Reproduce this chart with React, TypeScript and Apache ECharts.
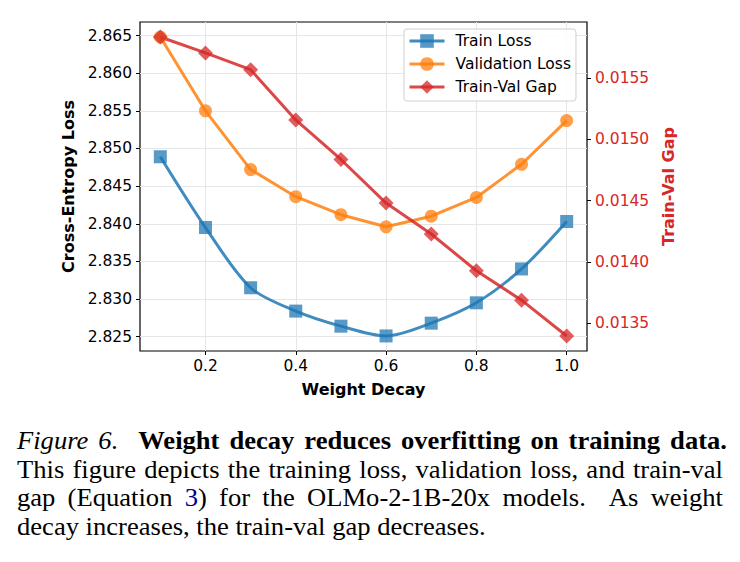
import React, { useEffect, useRef } from "react";
import * as echarts from "echarts";

const weightDecay = [0.1, 0.2, 0.3, 0.4, 0.5, 0.6, 0.7, 0.8, 0.9, 1.0];
const trainLoss = [2.8489, 2.8395, 2.8315, 2.8284, 2.8264, 2.8251, 2.8268, 2.8295, 2.834, 2.8403];
const validationLoss = [2.8648, 2.855, 2.8472, 2.8436, 2.8412, 2.8396, 2.841, 2.8435, 2.8479, 2.8537];
const trainValGap = [0.015833, 0.015703, 0.015567, 0.015157, 0.014835, 0.01448, 0.014228, 0.013929, 0.013689, 0.013397];
const xTicks = [0.2, 0.4, 0.6, 0.8, 1.0];
const lossTicks = [2.825, 2.83, 2.835, 2.84, 2.845, 2.85, 2.855, 2.86, 2.865];
const gapTicks = [0.0135, 0.014, 0.0145, 0.015, 0.0155];

const BLUE = "#1f77b4";
const ORANGE = "#ff7f0e";
const RED = "#d62728";
const FONT = "DejaVu Sans";
const SX = 1.085;

export default function App() {
  const ref = useRef<HTMLDivElement>(null);
  useEffect(() => {
    document.body.style.margin = "0";
    if (!ref.current) return;
    const chart = echarts.init(ref.current, undefined, { renderer: "svg" });
    const pairs = (ys: number[]) => weightDecay.map((x, i) => [x, ys[i]]);
    chart.setOption({
      animation: false,
      textStyle: { fontFamily: FONT },
      grid: {
        left: 140,
        top: 22,
        width: 447,
        height: 329,
        show: true,
        borderColor: "#000",
        borderWidth: 1.2,
        backgroundColor: "transparent",
      },
      legend: {
        orient: "vertical",
        left: 404,
        top: 29,
        padding: [3, 5, 5, 4],
        itemWidth: 35,
        itemHeight: 17,
        itemGap: 5,
        backgroundColor: "rgba(255,255,255,0.85)",
        borderColor: "#d0d0d0",
        borderWidth: 1,
        borderRadius: 3,
        lineStyle: { width: 3 },
        textStyle: { fontFamily: FONT, fontSize: 15.5, color: "#000", lineHeight: 18, padding: [0, 0, 0, 6] },
        data: ["Train Loss", "Validation Loss", "Train-Val Gap"],
      },
      xAxis: {
        type: "value",
        min: 0.055,
        max: 1.045,
        name: "Weight Decay",
        nameLocation: "middle",
        nameGap: 30,
        nameTextStyle: { fontFamily: FONT, fontSize: 16, fontWeight: "bold", color: "#000" },
        axisLine: { show: false },
        axisTick: { show: true, length: 4, lineStyle: { color: "#000", width: 1 }, customValues: xTicks },
        axisLabel: {
          customValues: xTicks,
          margin: 7,
          fontSize: 15.5,
          color: "#000",
          fontFamily: FONT,
          formatter: (v: number) => v.toFixed(1),
        },
        splitLine: { show: true, lineStyle: { color: "#e6e6e6", width: 1 } },
      },
      yAxis: [
        {
          type: "value",
          min: 2.8231,
          max: 2.8668,
          position: "left",
          name: "Cross-Entropy Loss",
          nameLocation: "middle",
          nameRotate: 90,
          nameGap: 62,
          nameTextStyle: { fontFamily: FONT, fontSize: 16, fontWeight: "bold", color: "#000" },
          axisLine: { show: false },
          axisTick: { show: true, length: 4, lineStyle: { color: "#000", width: 1 }, customValues: lossTicks },
          axisLabel: {
            customValues: lossTicks,
            margin: 8,
            fontSize: 15.5,
            color: "#000",
            fontFamily: FONT,
            formatter: (v: number) => v.toFixed(3),
          },
          splitLine: { show: true, lineStyle: { color: "#e6e6e6", width: 1 } },
        },
        {
          type: "value",
          min: 0.013275,
          max: 0.015955,
          position: "right",
          name: "Train-Val Gap",
          nameLocation: "middle",
          nameRotate: 90,
          nameGap: 67,
          nameTextStyle: { fontFamily: FONT, fontSize: 16, fontWeight: "bold", color: RED },
          axisLine: { show: false },
          axisTick: { show: true, length: 4, lineStyle: { color: "#000", width: 1 }, customValues: gapTicks },
          axisLabel: {
            customValues: gapTicks,
            margin: 8,
            fontSize: 15.5,
            color: RED,
            fontFamily: FONT,
            formatter: (v: number) => v.toFixed(4),
          },
          splitLine: { show: false },
        },
      ],
      series: [
        {
          name: "Train Loss",
          type: "line",
          yAxisIndex: 0,
          data: pairs(trainLoss),
          smooth: 0.3,
          symbol: "rect",
          symbolSize: 13,
          lineStyle: { color: BLUE, width: 3, opacity: 0.85 },
          itemStyle: { color: BLUE, opacity: 0.75 },
        },
        {
          name: "Validation Loss",
          type: "line",
          yAxisIndex: 0,
          data: pairs(validationLoss),
          symbol: "circle",
          symbolSize: 13,
          lineStyle: { color: ORANGE, width: 3, opacity: 0.85 },
          itemStyle: { color: ORANGE, opacity: 0.75 },
        },
        {
          name: "Train-Val Gap",
          type: "line",
          yAxisIndex: 1,
          data: pairs(trainValGap),
          symbol: "diamond",
          symbolSize: 15,
          lineStyle: { color: RED, width: 3, opacity: 0.85 },
          itemStyle: { color: RED, opacity: 0.75 },
        },
      ],
    });
    return () => chart.dispose();
  }, []);

  const lineStyle: React.CSSProperties = {
    textAlign: "justify",
    textAlignLast: "justify",
    whiteSpace: "nowrap",
    height: 28.6,
  };

  return (
    <div style={{ position: "absolute", left: 0, top: 0, width: 740, height: 562, background: "#fff" }}>
      <div ref={ref} style={{ position: "absolute", left: 0, top: 0, width: 740, height: 410 }} />
      <div
        style={{
          position: "absolute",
          left: 17,
          top: 427,
          width: 706 / SX,
          transform: `scaleX(${SX})`,
          transformOrigin: "0 0",
          fontFamily: "'Liberation Serif', 'Times New Roman', serif",
          fontSize: 24.5,
          lineHeight: "28.6px",
          color: "#000",
        }}
      >
        <div style={{ ...lineStyle, width: 710 / SX }}>
          <i>Figure 6.</i>{"\u00a0 "}<b>Weight decay reduces overfitting on training data.</b>
        </div>
        <div style={lineStyle}>This figure depicts the training loss, validation loss, and train-val</div>
        <div style={lineStyle}>
          gap (Equation <span style={{ color: "#00008b" }}>3</span>) for the OLMo-2-1B-20x models.{"\u00a0 "}As weight
        </div>
        <div style={{ textAlign: "left", whiteSpace: "nowrap", height: 28.6 }}>
          decay increases, the train-val gap decreases.
        </div>
      </div>
    </div>
  );
}
